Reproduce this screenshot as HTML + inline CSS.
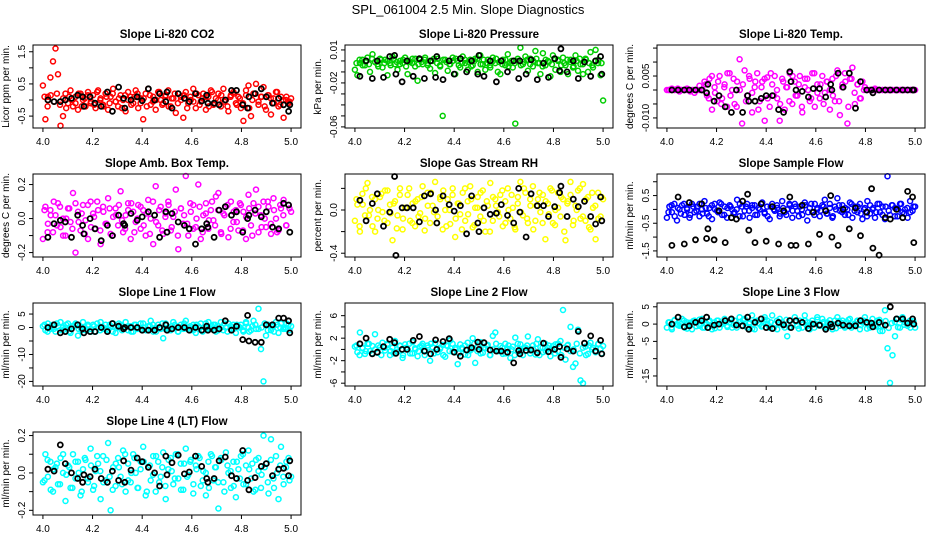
<!DOCTYPE html>
<html><head><meta charset="utf-8"><style>
html,body{margin:0;padding:0;background:#fff;}
svg{display:block;font-family:"Liberation Sans",Arial,sans-serif;}
</style></head><body>
<svg id="chart" width="936" height="540" viewBox="0 0 936 540">
<rect x="0" y="0" width="936" height="540" fill="#fff"/>
<text x="468" y="14" text-anchor="middle" font-size="13">SPL_061004  2.5 Min. Slope Diagnostics</text>
</svg>
<script>
// shared x positions of the black (highlighted) points
const blackX = [4.02,4.045,4.07,4.09,4.115,4.14,4.16,4.165,4.19,4.21,4.235,4.26,4.28,4.305,4.325,4.33,4.355,4.38,4.40,4.425,4.45,4.47,4.495,4.50,4.52,4.545,4.57,4.59,4.615,4.64,4.66,4.665,4.69,4.71,4.735,4.76,4.78,4.805,4.825,4.83,4.855,4.88,4.90,4.925,4.95,4.97,4.99,4.995];
const xTicks = [4.0,4.2,4.4,4.6,4.8,5.0];
const xTickLabels = ["4.0","4.2","4.4","4.6","4.8","5.0"];

// Panel 1 CO2
const co2Vals = [0.45,-0.6,0.1,0.7,1.2,1.6,0.8,-0.8,-0.5,0.2,-0.1,0.3,-0.2,0.1,-0.3,0.2,0.0,-0.2,0.25,-0.1,0.15,-0.25,0.3,0.05,-0.15,0.2,-0.3,0.1,0.35,-0.05,-0.2,0.15,0.0,-0.35,0.25,0.1,-0.1,0.3,-0.25,0.05,-0.6,0.2,0.35,-0.15,0.1,-0.3,0.25,0.0,-0.1,0.15,0.3,-0.2,0.05,-0.4,0.2,0.1,-0.55,0.25,-0.1,0.0,0.35,-0.25,0.15,-0.05,0.2,-0.3,0.1,0.3,-0.15,0.05,0.2,-0.2,0.35,0.0,-0.35,0.15,0.25,-0.1,0.1,-0.25,-0.65,0.3,0.45,-0.5,0.2,0.5,-0.15,0.1,0.4,-0.3,0.15,-0.45,0.05,0.25,-0.2,0.1,-0.55,0.0,-0.1,0.05];
const co2Band = [0.1,-0.2,0.15,-0.05,0.2,-0.15,0.05,-0.25,0.1,0.0,-0.1,0.2,-0.2,0.05,0.15,-0.05,-0.15,0.25,0.0,-0.2,0.1,-0.1,0.2,-0.05,0.05,-0.25,0.15,0.0,-0.15,0.1,0.2,-0.1,0.05,-0.2,0.15,-0.05,0.0,0.25,-0.15,0.1,-0.2,0.05,0.2,-0.1,0.0,0.15,-0.25,0.1,-0.05,0.2,-0.15,0.05,0.1,-0.2,0.25,-0.1,0.0,0.15,-0.05,-0.2,0.1,0.2,-0.15,0.05,-0.1,0.15,-0.25,0.0,0.2,-0.05,0.1,-0.2,0.15,0.05,-0.1,0.25,-0.15,0.0,0.1,-0.05];
const co2Black = [0.0,-0.05,-0.05,0.0,0.05,0.15,0.1,-0.2,0.1,-0.1,-0.2,0.25,-0.35,0.4,0.05,-0.25,0.0,0.1,-0.02,0.35,0.0,0.2,-0.05,0.25,-0.25,0.2,0.05,-0.05,0.2,-0.03,0.15,-0.1,-0.1,-0.15,0.0,0.3,0.3,-0.15,-0.25,0.1,0.2,0.35,0.1,-0.1,0.05,-0.15,-0.35,-0.15];
// Panel 2 Pressure
const presVals = [-0.008,-0.013,-0.002,0.001,-0.004,0.003,-0.01,0.006,-0.001,-0.003,0.002,-0.006,0.001,-0.013,-0.002,0.004,-0.003,-0.008,0.0,-0.002,0.003,-0.012,-0.001,0.002,-0.005,-0.018,0.001,-0.003,0.003,-0.002,-0.007,0.0,-0.011,0.002,-0.004,-0.05,0.001,-0.009,-0.003,0.003,-0.012,0.0,-0.006,0.004,-0.002,-0.008,0.001,-0.004,0.002,-0.01,0.005,-0.003,-0.008,0.001,-0.006,0.003,-0.002,-0.01,-0.012,0.001,-0.004,0.006,-0.002,-0.006,-0.057,0.0,0.012,-0.003,0.004,-0.009,0.002,-0.005,0.009,-0.002,-0.012,0.007,-0.004,0.0,-0.014,0.005,-0.008,0.001,-0.01,0.003,-0.004,-0.012,0.001,-0.006,0.005,-0.009,-0.003,-0.012,0.002,-0.01,0.008,-0.006,0.01,-0.002,-0.013,-0.036];
const presBand = [-0.002,0.001,-0.004,0.0,-0.003,0.002,-0.001,-0.005,0.001,-0.002,0.0,-0.004,0.002,-0.001,-0.003,0.001,-0.005,0.0,-0.002,0.002,-0.003,-0.001,0.001,-0.004,0.0,0.002,-0.002,-0.005,0.001,-0.001,-0.003,0.0,0.002,-0.004,-0.002,0.001,-0.001,-0.005,0.0,0.002,-0.003,0.001,-0.002,-0.004,0.0,0.002,-0.001,-0.003,0.001,-0.005,0.0,-0.002,0.002,-0.004,-0.001,0.001,-0.003,0.0,0.002,-0.002,-0.005,0.001,-0.001,-0.003,0.002,0.0,-0.004,-0.002,0.001,-0.001,-0.005,0.0,0.002,-0.003,0.001,-0.002,-0.004,0.0,0.001,-0.002];
const presBlack = [-0.014,0.0,-0.016,0.0,-0.015,0.004,0.005,-0.012,-0.019,0.0,-0.014,0.002,-0.016,0.0,-0.015,0.004,-0.017,0.0,-0.012,0.002,-0.01,0.0,-0.012,0.005,-0.014,0.0,-0.019,0.0,-0.01,0.0,-0.016,0.0,-0.012,0.001,-0.017,-0.002,-0.015,0.002,-0.009,0.011,-0.01,0.0,-0.016,-0.001,-0.014,0.0,0.004,-0.012];
// Panel 3 Li-820 temp
const tempVals = [0,0,0.0005,0,0,-0.0005,0,0,0.0005,0,0,-0.001,0,0.0015,0,0.003,-0.002,0.004,-0.007,0.001,-0.004,0.005,-0.003,0.002,-0.006,0.006,0.0,-0.005,0.003,0.011,-0.012,0.007,-0.002,0.004,-0.008,0.001,0.006,-0.004,0.003,-0.011,0.0045,-0.006,0.002,0.005,-0.003,-0.011,0.004,-0.007,0.001,0.006,-0.005,0.003,-0.002,0.005,-0.008,0.001,0.004,-0.004,0.006,-0.006,0.002,-0.003,0.005,-0.001,0.003,-0.007,0.004,-0.004,0.007,-0.009,0.002,0.006,-0.012,0.004,0.008,-0.005,0.002,-0.003,0.003,0.001,0,0,0,0.0005,0,0,0,0,0,0,0,0,0,0,0,0,0,0,0,0];
const tempBand = [0,0,0,0.0005,0,0,0,-0.0005,0,0,0,0,0.002,-0.003,0.005,-0.001,0.003,-0.005,0.001,0.006,-0.002,0.004,-0.006,0.0,0.002,-0.004,0.005,-0.001,0.003,-0.007,0.001,0.004,-0.003,0.006,-0.002,0.0,-0.005,0.003,0.001,-0.004,0.005,-0.002,0.002,-0.006,0.004,0.0,-0.003,0.006,-0.001,0.002,-0.005,0.003,0.0,-0.002,0.005,-0.004,0.001,0.003,-0.006,0.004,-0.001,0.002,-0.003,0.0,0,0,0,0,0,0,0,0,0,0,0,0,0,0,0,0];
const tempBlack = [0,0,0,0,0,0,-0.001,0.002,-0.004,-0.002,-0.006,-0.008,0.0,-0.008,-0.002,-0.004,-0.004,-0.003,-0.002,-0.002,-0.007,-0.008,0.0065,0.003,0.0,-0.0005,-0.0025,0.0005,0.0005,-0.0025,0.002,0.0,0.006,0.001,0.006,-0.0065,0.003,0,0,-0.001,0,0,0,0,0,0,0,0];
// Panel 4 Amb box temp
const boxVals = [-0.12,0.07,-0.03,0.05,-0.08,0.02,0.09,-0.05,0.0,-0.1,0.06,-0.02,0.15,-0.2,0.04,-0.07,0.08,-0.01,-0.12,0.1,0.03,-0.06,0.05,-0.15,0.07,-0.03,0.12,-0.09,0.01,0.06,-0.04,0.16,-0.08,0.02,0.09,-0.12,0.04,-0.02,0.08,-0.06,0.05,-0.1,0.11,0.0,-0.15,0.19,-0.04,0.07,-0.09,0.03,0.1,-0.07,0.01,0.17,-0.18,0.06,-0.03,0.25,-0.1,0.04,0.08,-0.05,0.2,-0.12,0.02,0.09,-0.06,0.05,-0.01,0.13,0.15,-0.08,0.03,0.07,-0.11,0.1,-0.02,0.05,-0.07,0.08,0.04,-0.12,0.14,-0.04,0.09,0.17,-0.08,0.02,0.1,-0.05,0.07,-0.09,0.12,0.0,-0.07,0.06,0.11,-0.04,0.08,0.04];
const boxBand = [0.05,-0.08,0.02,0.1,-0.04,0.07,-0.1,0.0,0.06,-0.06,0.09,-0.02,0.03,-0.09,0.08,-0.05,0.01,0.1,-0.07,0.04,-0.03,0.06,-0.1,0.02,0.08,-0.01,-0.06,0.05,0.09,-0.08,0.0,0.07,-0.04,0.03,-0.09,0.1,-0.02,0.05,-0.07,0.01,0.08,-0.05,0.04,-0.1,0.06,0.02,-0.03,0.09,-0.06,0.0,0.07,-0.08,0.03,-0.01,0.1,-0.04,0.05,-0.09,0.02,0.08,-0.06,0.04,-0.02,0.09,-0.07,0.01,0.06,-0.1,0.03,0.07,-0.05,0.0,0.1,-0.03,0.05,-0.08,0.08,0.02,-0.04,0.06];
const boxBlack = [-0.11,-0.03,-0.01,-0.02,-0.11,0.02,-0.04,-0.09,0.0,-0.06,-0.13,-0.04,-0.1,0.02,-0.03,-0.04,0.03,-0.01,0.01,0.04,0.02,-0.11,0.04,-0.08,0.03,-0.02,-0.04,-0.06,-0.15,-0.06,-0.03,-0.05,-0.11,0.05,0.07,0.02,0.04,-0.08,0.0,0.02,0.05,0.01,0.04,-0.05,-0.06,0.09,0.08,-0.08];
// Panel 5 RH
const rhVals = [-0.1,0.05,-0.2,0.15,-0.05,0.25,0.0,-0.15,0.1,-0.08,0.12,-0.02,0.18,-0.12,0.05,-0.28,0.08,-0.05,0.2,-0.18,0.02,0.14,-0.1,0.06,-0.15,0.1,-0.03,0.22,-0.08,0.16,-0.12,0.04,0.26,-0.06,0.12,-0.18,0.0,0.1,-0.13,0.2,-0.25,0.06,-0.04,0.16,-0.1,0.08,0.22,-0.16,0.02,0.12,-0.06,0.18,-0.2,0.04,0.25,-0.1,0.1,-0.02,0.14,-0.15,0.08,0.2,-0.08,0.02,-0.18,0.12,0.26,-0.05,0.16,-0.12,0.04,0.22,-0.1,0.1,-0.02,0.14,-0.27,0.06,0.2,-0.12,0.0,0.16,-0.06,0.1,-0.28,0.08,0.26,-0.14,0.04,0.18,-0.08,0.24,-0.1,0.12,-0.18,0.02,-0.27,0.16,-0.06,0.1];
const rhBand = [0.1,-0.15,0.05,0.2,-0.05,0.12,-0.2,0.0,0.15,-0.1,0.18,-0.03,0.06,-0.17,0.14,-0.08,0.02,0.2,-0.12,0.08,-0.06,0.12,-0.19,0.04,0.16,-0.02,-0.12,0.1,0.18,-0.15,0.0,0.14,-0.08,0.06,-0.18,0.2,-0.04,0.1,-0.14,0.02,0.16,-0.1,0.08,-0.2,0.12,0.04,-0.06,0.18,-0.12,0.0,0.14,-0.16,0.06,-0.02,0.2,-0.08,0.1,-0.18,0.04,0.16,-0.12,0.08,-0.04,0.18,-0.14,0.02,0.12,-0.2,0.06,0.14,-0.1,0.0,0.2,-0.06,0.1,-0.16,0.16,0.04,-0.08,0.12];
const rhBlack = [0.09,-0.1,0.06,0.15,-0.15,-0.02,0.31,-0.42,0.02,0.02,0.02,-0.11,0.13,0.15,0.0,-0.12,0.13,0.05,-0.01,0.04,-0.22,0.13,-0.12,-0.2,0.02,-0.04,-0.03,0.05,-0.05,-0.12,0.2,-0.02,-0.25,0.15,0.04,0.04,-0.06,0.03,0.16,0.22,-0.06,0.1,0.03,0.08,-0.06,-0.13,0.12,-0.1];
// Panel 6 Sample flow
const sampVals = [-0.3,0.1,-0.1,0.2,-0.4,0.0,0.15,-0.2,0.05,-0.3,0.2,-0.1,0.1,-0.25,0.0,0.3,-0.15,0.05,-0.35,0.2,-0.05,0.25,-0.2,0.1,-0.3,0.15,0.0,-0.1,0.35,-0.25,0.1,-0.05,0.2,-0.3,0.05,0.15,-0.2,0.0,0.25,-0.15,0.1,-0.35,0.2,-0.05,0.05,-0.25,0.3,-0.1,0.0,0.15,-0.3,0.2,-0.05,0.1,-0.2,0.25,-0.4,0.05,-0.1,0.2,0.0,-0.25,0.15,0.35,-0.15,0.05,-0.3,0.1,0.4,-0.05,0.15,-0.2,0.0,0.25,-0.3,0.1,-0.1,0.2,-0.35,0.05,0.3,-0.15,0.0,-0.3,0.2,-0.1,0.1,-0.35,1.2,-0.2,0.15,0.05,-0.25,0.2,-0.1,0.0,-0.3,0.3,-0.05,0.1];
const sampBand = [-0.1,0.15,-0.25,0.05,-0.15,0.2,0.0,-0.2,0.1,-0.05,0.2,-0.15,0.05,-0.25,0.15,0.0,-0.1,0.2,-0.2,0.05,0.1,-0.15,0.0,0.2,-0.25,0.1,-0.05,0.15,-0.2,0.05,0.2,-0.1,-0.25,0.1,0.0,0.15,-0.15,0.05,-0.2,0.2,-0.05,0.1,-0.25,0.0,0.15,-0.1,0.2,-0.2,0.05,-0.05,0.1,-0.15,0.2,-0.25,0.0,0.15,-0.1,0.05,-0.2,0.2,-0.05,0.1,-0.15,0.0,-0.25,0.15,0.05,-0.1,0.2,-0.2,0.1,-0.05,0.15,-0.25,0.0,0.2,-0.15,0.05,-0.1,0.1];
const sampBlack = [-1.3,0.45,-1.25,0.25,-1.1,0.2,-1.05,-0.7,-1.1,-0.05,-1.2,-0.3,-0.35,0.3,0.55,-0.75,-1.2,0.2,-1.15,0.1,-1.25,-0.05,0.45,-1.3,-1.3,0.15,-1.25,-0.1,-0.9,-0.05,0.5,-1.0,-1.3,0.0,-0.7,0.05,-0.95,-0.1,0.75,-1.4,-1.65,-0.3,-0.35,0.0,-0.3,0.65,0.45,-1.2];
// Panel 7 Line 1
const l1Vals = [0.5,-1,1.5,-0.5,1,-1.5,0.5,2,-1,0,1.5,-2,0.5,1,-3,0,2,-1,0.5,-0.5,1,-1.5,0,2,-0.5,1,-1,0.5,1.5,-2,0,1,-0.5,2,-1,0.5,-1.5,1,0,-0.5,1.5,-1,0.5,2.5,-1.5,0,1,-0.5,-4,1.5,0,-1,2,0.5,-1.5,1,-0.5,2.5,0,-1,1,-2,0.5,1.5,-1,0,2,-0.5,1,-1.5,0.5,2,-1,0,1.5,-0.5,1,-2,0.5,1,-1.5,2,0,-1,2.5,-0.5,7,-8,-20,-3,1,-1,0.5,2,-2,1.5,0,-0.5,1,0.5];
const l1Band = [1,-1.5,0.5,-0.5,1.5,-1,0,1,-1.5,0.5,1.5,-0.5,-1,0,1,-1.5,0.5,1.5,-1,0,-0.5,1,-1.5,0.5,1.5,-1,0,0.5,-1.5,1,-0.5,1.5,0,-1,0.5,1,-1.5,0,1.5,-0.5,-1,0.5,1,-1.5,0,1.5,-0.5,0.5,-1,1,0,-1.5,1.5,-0.5,0.5,1,-1,0,1.5,-1.5,0.5,-0.5,1,0,-1,1.5,-1.5,0.5,1,-0.5,0,1.5,-1,0.5,-1.5,1,0,-0.5,1.5,-1];
const l1Black = [0,1,-2,-1.5,-0.5,1,-0.5,-2,-1.5,-1.5,0,-1.5,1.5,0.5,-0.5,0,0,0,-1,-1,-1,0,1,-1,-0.5,0,0,-1,0,-1,0.5,-1,-1,-0.5,2.5,-1,0.5,-4.5,4.5,-5,-5.5,-5.5,1,1,3.5,3.5,2.5,-2];
// Panel 8 Line 2
const l2Vals = [0.5,-0.5,3,0.2,-0.8,1,-0.3,0.6,2.7,-0.6,0.4,1.2,-0.2,0.8,-1,0.3,1.5,-0.4,0.6,-1.5,0.9,0,-0.7,1.3,0.2,-1.2,0.5,1,-0.3,0.7,-2,0.4,1.1,-0.5,0.1,0.8,-1.3,0.6,1.6,-0.4,0.3,-2.6,0.9,0.1,-0.9,1.2,-0.2,2,-2.4,0.5,1.3,-0.6,0.2,0.8,-1,2.4,3,-0.3,0.6,-0.8,1,0.1,-1.5,0.5,2.1,-0.4,0.9,-1,0.3,2.3,-0.2,0.7,-0.9,1.8,0.4,-0.5,1,0.2,-1.2,0.6,0.9,-0.3,1.5,7,-1.8,0.8,4,-3.1,-2.5,3.5,-5.5,-6,0.5,-0.8,1.2,0.3,-0.5,0.9,0.1,0.6];
const l2Band = [0.7,-1,0.3,-0.3,1,-0.7,0,0.7,-1,0.3,1,-0.3,-0.7,0,0.7,-1,0.3,1,-0.7,0,-0.3,0.7,-1,0.3,1,-0.7,0,0.3,-1,0.7,-0.3,1,0,-0.7,0.3,0.7,-1,0,1,-0.3,-0.7,0.3,0.7,-1,0,1,-0.3,0.3,-0.7,0.7,0,-1,1,-0.3,0.3,0.7,-0.7,0,1,-1,0.3,-0.3,0.7,0,-0.7,1,-1,0.3,0.7,-0.3,0,1,-0.7,0.3,-1,0.7,0,-0.3,1,-0.7];
const l2Black = [1,2,-0.8,-0.5,0.5,1.8,1.2,-0.7,0,0,1.6,2.3,-0.3,-0.8,1.7,0,1.4,1.9,-0.5,-1.2,-0.1,0.3,1.3,0,1.2,-0.1,-0.3,-0.3,-0.5,-2.4,-0.2,-0.8,-0.2,-0.1,-0.6,1.1,-0.4,0,0.5,-1.4,0.1,-0.3,3.2,1.1,2.4,-0.3,1.6,-0.8];
// Panel 9 Line 3
const l3Vals = [-1,0.5,-1.5,1,0,-0.5,1.5,-1,0.5,0,-1.5,1,0.5,-0.5,1.5,-1,0,1,-1.5,0.5,1,-1,0,1.5,-0.5,0.5,-1,1,0,2,-0.5,1.5,-1,0.5,2.5,-1.5,1,0,-0.5,2,1,-1,2.5,0,-1.5,1.5,0.5,-1,-3.5,1,0,2,-0.5,1,-1,2.5,0.5,-1.5,1,0,2,-0.5,1.5,-1,0.5,0,-1.5,1,2,-0.5,1,-1,0.5,1.5,-0.5,0,1,-1.5,0.5,2,0,-1,1.5,-0.5,1,-2,-2,4,-7,-17,-9,-3.5,1.5,-1,2,0.5,-0.5,1,0,-1];
const l3Band = [0.5,-1,1.2,-0.3,0,1,-1.3,0.4,0.9,-0.6,1.3,-1,0.2,0.7,-0.4,-1.2,1,0,0.5,-0.8,1.2,-0.2,-1,0.6,1.1,-0.5,0.1,-1.3,0.8,0.3,-0.7,1.3,-0.1,0.5,-1.1,1,0.2,-0.4,1.2,-0.9,0,0.7,-1.3,0.4,1,-0.5,0.2,-1,1.3,-0.2,0.6,-0.8,1.1,0,-1.2,0.9,0.3,-0.6,1.2,-1,0.1,0.8,-0.3,1,-1.3,0.5,0,-0.7,1.2,-0.4,0.9,-1.1,0.3,0.6,-0.9,1.3,-0.2,0.4,-1,0.8];
const l3Black = [0,2,-0.8,-0.5,0.5,1,2,-1,-0.3,0,1,1.5,-0.3,-0.5,2,-1.5,0.5,1.5,-1,-1.3,0.5,-0.2,1,-1,1,0.5,-1.3,0,-0.3,-1.5,0,-0.8,0.3,-0.3,-0.5,-0.5,1,0.5,0.3,-0.8,0.5,-0.3,5,1.5,1.5,0.3,1.5,0];
// Panel 10 Line 4
const l4Vals = [-0.05,0.1,-0.02,0.06,-0.1,0.03,-0.06,0.08,0.0,-0.15,0.04,-0.08,0.1,-0.03,0.06,-0.12,0.02,0.07,-0.05,0.13,-0.09,0.01,0.05,-0.14,0.09,-0.04,0.16,-0.2,0.03,-0.07,0.08,-0.02,0.12,-0.1,0.05,-0.05,0.1,0.0,-0.08,0.06,0.14,-0.12,0.03,-0.04,0.09,-0.1,0.06,-0.02,0.11,-0.14,0.02,0.08,-0.06,0.1,-0.03,0.05,-0.09,0.13,-0.01,0.07,-0.11,0.04,0.09,-0.07,0.01,-0.12,0.06,0.1,-0.04,0.03,-0.19,0.08,-0.05,0.11,0.0,-0.08,0.06,-0.13,0.02,0.09,-0.06,0.04,0.12,-0.03,-0.1,0.07,0.01,-0.08,0.2,0.05,-0.11,0.18,-0.03,0.09,-0.14,0.14,-0.06,0.03,0.08,-0.02];
const l4Band = [-0.04,0.07,-0.09,0.02,0.05,-0.06,0.1,-0.01,0.03,-0.08,0.06,0.0,-0.1,0.08,-0.03,0.04,-0.07,0.09,0.01,-0.05,0.07,-0.02,-0.09,0.05,0.03,-0.06,0.1,-0.04,0.0,0.08,-0.08,0.02,0.06,-0.1,0.04,-0.01,0.09,-0.05,0.03,-0.07,0.07,0.01,-0.03,0.1,-0.09,0.05,-0.02,0.06,-0.06,0.02,0.08,-0.04,0.0,-0.08,0.09,0.03,-0.05,0.07,-0.1,0.04,0.01,-0.07,0.06,-0.03,0.1,-0.06,0.02,0.05,-0.09,0.08,-0.01,0.03,-0.05,0.07,-0.08,0.0,0.04,-0.02,0.06,-0.04];
const l4Black = [0.02,0.01,0.15,0.05,0.0,-0.03,-0.05,-0.01,-0.02,0.02,-0.03,-0.05,0.01,-0.04,0.065,-0.05,0.015,0.08,0.06,0.03,0.0,-0.07,0.09,-0.01,0.055,0.095,-0.005,0.005,0.09,0.035,-0.03,-0.05,-0.03,0.065,0.085,-0.015,-0.03,0.12,-0.04,-0.09,-0.025,0.035,0.05,-0.015,0.02,0.025,-0.015,0.065];

const panels = [
 {name:"co2",title:"Slope Li-820 CO2",ylab:"Licor ppm per min.",col:0,row:0,ymin:-0.87,ymax:1.71,ticks:[-0.5,0,0.5,1,1.5],labels:{"-0.5":"-0.5","0.5":"0.5","1.5":"1.5"},color:"#ff0000",vals:co2Vals,band:co2Band,black:co2Black},
 {name:"pressure",title:"Slope Li-820 Pressure",ylab:"kPa per min.",col:1,row:0,ymin:-0.061,ymax:0.0145,ticks:[0.01,0,-0.01,-0.02,-0.03,-0.04,-0.05,-0.06],labels:{"0.01":"0.01","-0.02":"-0.02","-0.06":"-0.06"},color:"#00cd00",vals:presVals,band:presBand,black:presBlack},
 {name:"li820-temp",title:"Slope Li-820 Temp.",ylab:"degrees C per min.",col:2,row:0,ymin:-0.0136,ymax:0.0161,ticks:[0.015,0.01,0.005,0,-0.005,-0.01],labels:{"0.005":"0.005","-0.01":"-0.010"},color:"#ff00ff",vals:tempVals,band:tempBand,black:tempBlack},
 {name:"amb-box-temp",title:"Slope Amb. Box Temp.",ylab:"degrees C per min.",col:0,row:1,ymin:-0.226,ymax:0.262,ticks:[-0.2,-0.1,0,0.1,0.2],labels:{"-0.2":"-0.2","0":"0.0","0.2":"0.2"},color:"#ff00ff",vals:boxVals,band:boxBand,black:boxBlack},
 {name:"gas-rh",title:"Slope Gas Stream RH",ylab:"percent per min.",col:1,row:1,ymin:-0.435,ymax:0.333,ticks:[0.2,0,-0.2,-0.4],labels:{"0":"0.0","-0.4":"-0.4"},color:"#ffff00",vals:rhVals,band:rhBand,black:rhBlack},
 {name:"sample-flow",title:"Slope Sample Flow",ylab:"ml/min per min.",col:2,row:1,ymin:-1.72,ymax:1.28,ticks:[1,0.5,0,-0.5,-1,-1.5],labels:{"0.5":"0.5","-0.5":"-0.5","-1.5":"-1.5"},color:"#0000ff",vals:sampVals,band:sampBand,black:sampBlack},
 {name:"line1-flow",title:"Slope Line 1 Flow",ylab:"ml/min per min.",col:0,row:2,ymin:-21.7,ymax:9.1,ticks:[5,0,-5,-10,-15,-20],labels:{"5":"5","0":"0","-10":"-10","-20":"-20"},color:"#00ffff",vals:l1Vals,band:l1Band,black:l1Black},
 {name:"line2-flow",title:"Slope Line 2 Flow",ylab:"ml/min per min.",col:1,row:2,ymin:-6.5,ymax:8.25,ticks:[6,4,2,0,-2,-4,-6],labels:{"6":"6","2":"2","-2":"-2","-6":"-6"},color:"#00ffff",vals:l2Vals,band:l2Band,black:l2Black},
 {name:"line3-flow",title:"Slope Line 3 Flow",ylab:"ml/min per min.",col:2,row:2,ymin:-17.9,ymax:6.1,ticks:[5,0,-5,-10,-15],labels:{"5":"5","0":"0","-5":"-5","-15":"-15"},color:"#00ffff",vals:l3Vals,band:l3Band,black:l3Black},
 {name:"line4-flow",title:"Slope Line 4 (LT) Flow",ylab:"ml/min per min.",col:0,row:3,ymin:-0.225,ymax:0.219,ticks:[0.2,0.1,0,-0.1,-0.2],labels:{"0.2":"0.2","0":"0.0","-0.2":"-0.2"},color:"#00ffff",vals:l4Vals,band:l4Band,black:l4Black}
];

const svg = document.getElementById('chart');
const NS = 'http://www.w3.org/2000/svg';
const colLeft = [33,345,657], rowTop = [45,174,303,432];
const boxW = 268, boxH = 83, XMIN = 3.96, XMAX = 5.04;
function mk(tag, attrs, parent){const e=document.createElementNS(NS,tag);for(const k in attrs)e.setAttribute(k,attrs[k]);(parent||svg).appendChild(e);return e;}

panels.forEach(p=>{
  const L = colLeft[p.col], T = rowTop[p.row], B = T + boxH, R = L + boxW;
  const xs = v => L + (v - XMIN) / (XMAX - XMIN) * boxW;
  const ys = v => B - (v - p.ymin) / (p.ymax - p.ymin) * boxH;
  const g = mk('g', {});
  
  
  const t = mk('text', {x:(L+R)/2, y:T-7, 'text-anchor':'middle','font-size':'11.5','font-weight':'bold'}, g);
  t.textContent = p.title;
  
  
  const yl = mk('text', {x:0,y:0,'text-anchor':'middle','font-size':'10',transform:`translate(${L-24},${(T+B)/2}) rotate(-90)`}, g);
  yl.textContent = p.ylab;
  
  
  // colored points
  const cg = mk('g', {fill:'none',stroke:p.color,'stroke-width':'1.5'}, g);
  
  
  const nb = p.band.length;
  p.band.forEach((v,i)=>{
    const c = mk('circle', {cx:xs(4 + (i+0.5)/nb).toFixed(1), cy:ys(v).toFixed(1), r:2.5}, cg);
    
    
  });
  const n = p.vals.length;
  p.vals.forEach((v,i)=>{
    const c = mk('circle', {cx:xs(4 + i/(n-1)).toFixed(1), cy:ys(v).toFixed(1), r:2.5}, cg);
    
    
  });
  // black points
  const bg = mk('g', {fill:'none',stroke:'#000','stroke-width':'1.8'}, g);
  
  
  p.black.forEach((v,i)=>{
    if (i >= blackX.length) return;
    const c = mk('circle', {cx:xs(blackX[i]).toFixed(1), cy:ys(v).toFixed(1), r:2.5}, bg);
    
    
  });
  // box
  const box = mk('rect', {x:L,y:T,width:boxW,height:boxH,fill:'none',stroke:'#000','stroke-width':'1'}, g);
  
  
  // x axis
  const xa = mk('g', {}, g);
  
  
  xTicks.forEach((v,i)=>{
    mk('line', {x1:xs(v),x2:xs(v),y1:B,y2:B+4,stroke:'#000'}, xa);
    const tl = mk('text', {x:xs(v), y:B+17, 'text-anchor':'middle','font-size':'10'}, xa);
    tl.textContent = xTickLabels[i];
    
    
  });
  // y axis
  const ya = mk('g', {}, g);
  
  
  p.ticks.forEach(v=>{
    const y = ys(v);
    mk('line', {x1:L-4,x2:L,y1:y,y2:y,stroke:'#000'}, ya);
    const key = String(v);
    if (p.labels[key] !== undefined) {
      const tl = mk('text', {x:0,y:0,'text-anchor':'middle','font-size':'10',transform:`translate(${L-8},${y}) rotate(-90)`}, ya);
      tl.textContent = p.labels[key];
      
      
    }
  });
});
</script>
</body></html>
